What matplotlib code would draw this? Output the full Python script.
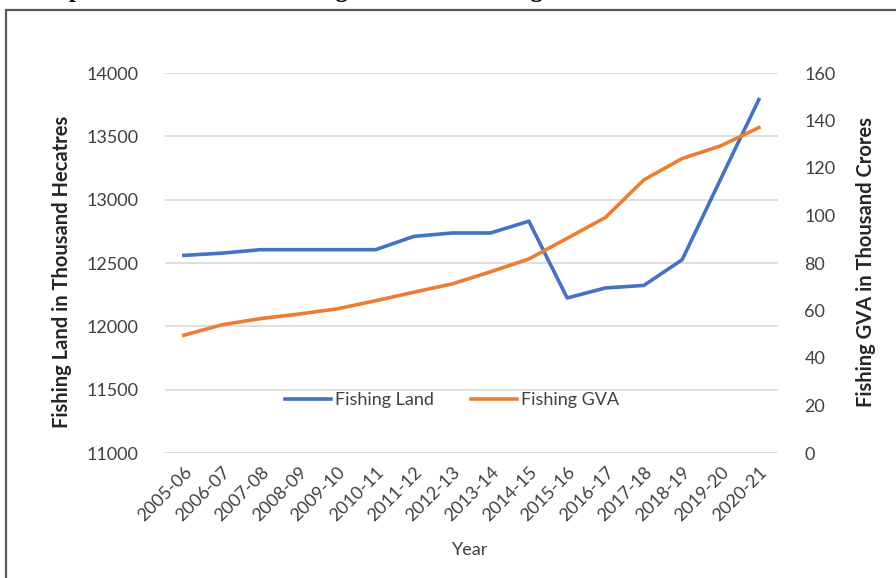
import matplotlib
matplotlib.use("Agg")
import matplotlib.pyplot as plt
from matplotlib.patches import Rectangle

# data
years = ["2005-06", "2006-07", "2007-08", "2008-09", "2009-10", "2010-11",
         "2011-12", "2012-13", "2013-14", "2014-15", "2015-16", "2016-17",
         "2017-18", "2018-19", "2019-20", "2020-21"]
fishing_land = [12560, 12578, 12605, 12605, 12605, 12605, 12710, 12737,
                12737, 12830, 12224, 12303, 12323, 12526, 13160, 13790]
fishing_gva = [49.6, 54.0, 56.6, 58.5, 60.7, 64.1, 67.7, 71.2,
               76.3, 81.7, 90.4, 99.2, 115.0, 124.0, 129.3, 137.0]

land_ticks = [11000, 11500, 12000, 12500, 13000, 13500, 14000]
gva_ticks = [0, 20, 40, 60, 80, 100, 120, 140, 160]

blue = "#4472C4"
orange = "#ED7D31"
grid_col = "#D9D9D9"
txt = "#404040"
fs = 13

plt.rcParams['font.family'] = ['Lato', 'DejaVu Sans']

fig = plt.figure(figsize=(8.96, 5.78), dpi=100)
W, H = 896, 578

# outer frame of the original figure (only top and left edges are visible)
fig.patches.append(Rectangle((5.5 / W, -0.1), 1.2, (H - 10) / H + 0.1,
                             transform=fig.transFigure, fill=False,
                             edgecolor="#595959", lw=1.6))

# title, cut off at the top of the image as in the reference
fig.text(5 / W, 1 + 3 / H,
         "Co-dependence between Fishing Land and Fishing GVA in India from 2005-06 to 2020-21",
         family="Liberation Serif", weight="bold", fontsize=18,
         ha="left", va="baseline")

ax = fig.add_axes([164.7 / W, 1 - 453 / H, (778 - 164.7) / W, (453 - 73) / H])
ax2 = ax.twinx()

x = list(range(len(years)))
l1, = ax.plot(x, fishing_land, color=blue, lw=2.6, label="Fishing Land",
              solid_joinstyle="round")
l2, = ax2.plot(x, fishing_gva, color=orange, lw=2.6, label="Fishing GVA",
               solid_joinstyle="round")

ax.set_xlim(-0.5, len(years) - 0.5)
ax.set_ylim(11000, 14000)
ax2.set_ylim(0, 160)
ax.set_yticks(land_ticks)
ax2.set_yticks(gva_ticks)
ax.yaxis.grid(True, color=grid_col, lw=1.2)
ax.set_axisbelow(True)

for a in (ax, ax2):
    for s in a.spines.values():
        s.set_visible(False)
ax.tick_params(axis="y", length=0, pad=19, labelsize=fs, labelcolor=txt)
ax2.tick_params(axis="y", length=0, pad=19, labelsize=fs, labelcolor=txt)
ax.set_xticks(x)
ax.set_xticklabels(years, rotation=45, ha="right", rotation_mode="anchor")
ax.tick_params(axis="x", length=0, pad=8, labelsize=fs, labelcolor=txt)

fig.text(62 / W, 1 - 272 / H, "Fishing Land in Thousand Hecatres",
         rotation=90, ha="center", va="center", fontsize=14.5,
         weight="bold", color="#262626")
fig.text(866 / W, 1 - 262 / H, "Fishing GVA in Thousand Crores",
         rotation=90, ha="center", va="center", fontsize=14.5,
         weight="bold", color="#262626")
fig.text(470 / W, 1 - 550 / H, "Year", ha="center", va="center",
         fontsize=fs, color=txt)

ax.legend([l1, l2], ["Fishing Land", "Fishing GVA"], loc="center",
          bbox_to_anchor=((452 - 164.7) / (778 - 164.7), (453 - 400) / 380),
          ncol=2, frameon=False, fontsize=fs, handlelength=2.55,
          handletextpad=0.22, columnspacing=2.05, labelcolor=txt,
          borderpad=0, borderaxespad=0)

fig.savefig("out.png", dpi=100)
